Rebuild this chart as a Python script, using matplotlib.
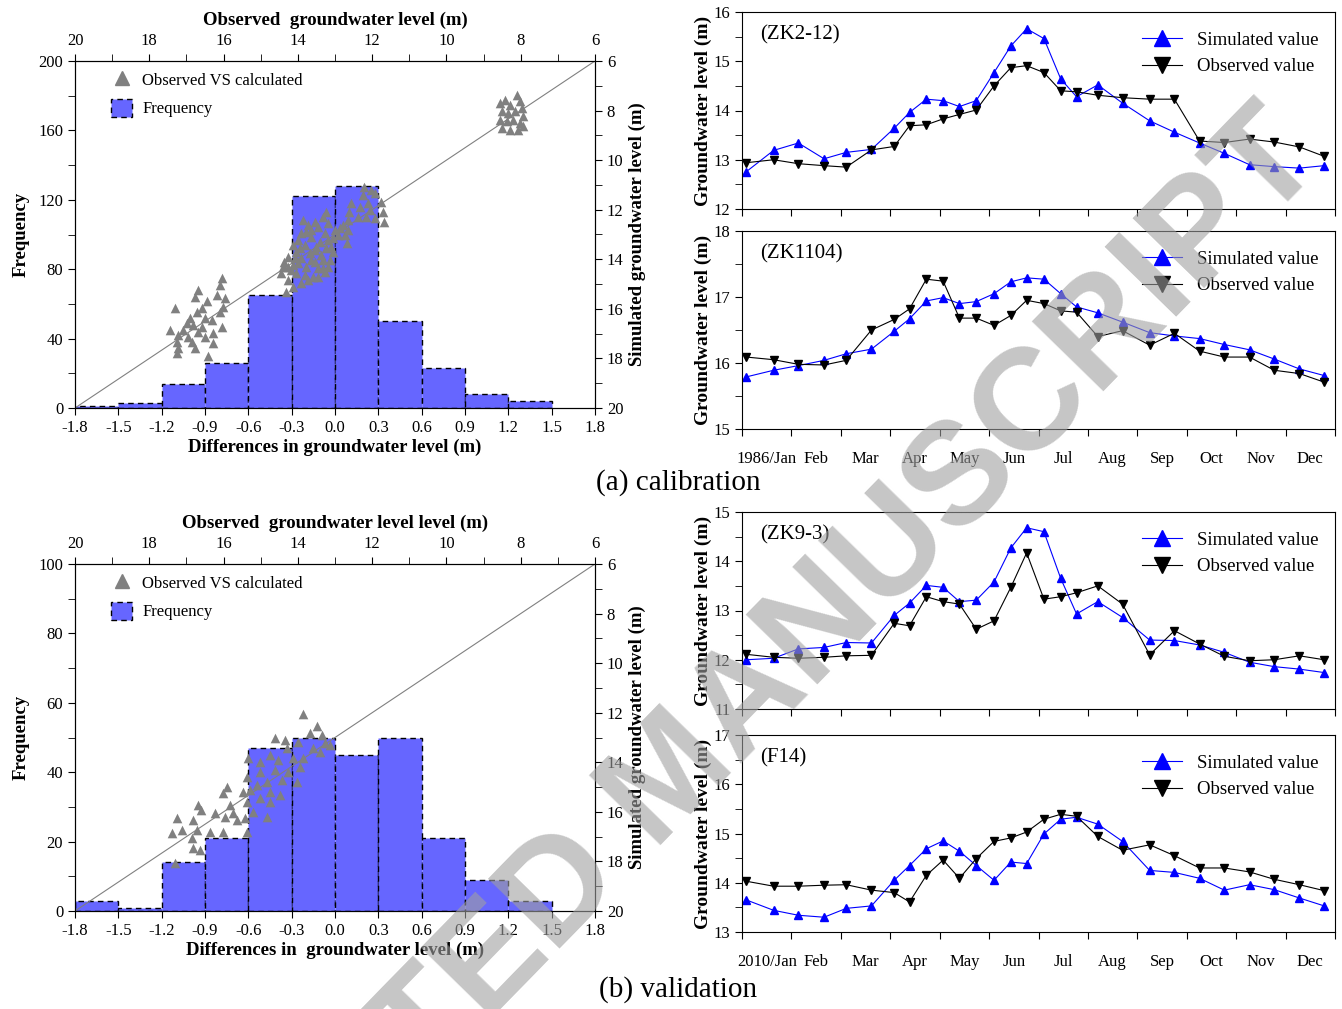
import matplotlib
matplotlib.use('Agg')
import matplotlib.pyplot as plt
import numpy as np
from matplotlib.lines import Line2D
from matplotlib.patches import Patch

plt.rcParams['font.family'] = ['Liberation Serif', 'DejaVu Serif']

# ---- histogram of differences (m) ----
bin_left = [-1.8, -1.5, -1.2, -0.9, -0.6, -0.3, 0.0, 0.3, 0.6, 0.9, 1.2]
freq_cal = [1, 3, 14, 26, 65, 122, 128, 50, 23, 8, 4]
freq_val = [3, 1, 14, 21, 47, 50, 45, 50, 21, 9, 3]
diff_ticks = [-1.8, -1.5, -1.2, -0.9, -0.6, -0.3, 0.0, 0.3, 0.6, 0.9, 1.2, 1.5, 1.8]

# ---- observed vs calculated scatter (m) ----
obs_cal = [16.05, 16.10, 16.68, 16.77, 16.19, 15.96, 16.45, 17.31, 16.01, 16.59, 16.72, 16.10,
           16.90, 16.50, 16.32, 16.99, 16.82, 16.59, 16.05, 17.44, 17.08, 16.68, 16.28, 17.22,
           16.95, 16.50, 17.26, 16.86, 16.28, 17.22, 16.77, 17.26, 16.41,
           12.22, 12.02, 12.25, 11.93, 12.56, 12.34, 12.11, 12.07, 11.75, 11.71, 11.68, 12.38,
           12.16, 11.93, 12.61, 12.65, 12.78, 12.87, 12.65, 12.74, 12.69, 12.92,
           13.23, 13.32, 13.86, 13.55, 13.73, 13.46, 13.19, 13.77, 13.28, 13.64, 14.00, 13.05,
           14.13, 13.82, 13.50, 13.23, 14.04, 13.68, 13.37, 14.27, 13.91, 13.55, 13.14, 14.36,
           14.13, 13.77, 13.32, 14.45, 14.04, 13.59, 14.27, 13.91, 14.13, 14.31, 13.28, 13.05,
           13.95, 13.64, 13.41, 14.18, 13.82, 13.46, 13.19, 13.91, 14.27, 13.55, 13.10, 13.73,
           14.00, 13.32, 14.40, 14.09, 13.46, 13.19, 13.01, 13.64,
           8.56, 8.42, 8.29, 8.11, 8.02, 7.97, 8.51, 8.33, 8.15, 7.93, 8.56, 8.38, 8.20, 8.02,
           8.51, 8.29, 8.06, 7.93]
sim_cal = [14.77, 15.04, 15.24, 15.53, 15.44, 15.57, 15.68, 15.95, 15.91, 15.98, 16.11, 16.11,
           16.38, 16.38, 16.45, 16.58, 16.65, 16.72, 16.72, 16.85, 16.85, 16.92, 16.99, 17.06,
           17.12, 17.12, 17.33, 17.33, 17.39, 17.59, 17.59, 17.79, 17.89,
           11.07, 11.20, 11.41, 11.34, 11.72, 11.88, 11.74, 12.01, 11.68, 12.08, 12.48, 12.28,
           12.28, 12.35, 12.08, 12.42, 12.62, 12.75, 12.82, 13.02, 13.36, 13.02,
           12.08, 12.28, 12.42, 12.48, 12.62, 12.68, 12.55, 12.89, 12.95, 13.09, 13.22, 13.16,
           13.42, 13.42, 13.49, 13.56, 13.69, 13.76, 13.83, 13.89, 13.96, 14.10, 14.03, 14.10,
           14.23, 14.30, 14.37, 14.57, 14.57, 14.70, 14.84, 14.97, 15.11, 15.31, 14.50, 13.69,
           13.56, 14.03, 13.29, 14.43, 14.63, 14.37, 13.22, 12.95, 14.30, 13.63, 13.49, 14.84,
           14.16, 14.03, 14.30, 13.96, 14.70, 14.30, 12.82, 12.82,
           7.69, 7.56, 7.76, 7.36, 7.63, 7.90, 8.03, 8.10, 8.03, 8.23, 8.37, 8.43, 8.37, 8.50,
           8.70, 8.77, 8.77, 8.64]

obs_val = [13.85, 13.49, 14.62, 14.35, 13.67, 13.36, 13.99, 13.27, 14.30, 14.75, 13.58, 14.53,
           14.12, 13.85, 15.02, 15.33, 13.40, 13.14, 13.94, 14.26, 14.62, 15.02, 15.38, 14.84,
           14.44, 14.03, 15.92, 16.01, 15.29, 14.75, 15.02, 14.48, 15.38, 14.75, 15.20, 14.84,
           15.42, 15.83, 15.74, 16.68, 16.62, 16.23, 15.96, 15.65, 17.26, 16.81, 17.13, 17.40,
           16.72, 16.86, 16.01, 16.37, 16.81, 16.64, 15.38, 17.31, 15.47, 15.11]
sim_val = [12.07, 12.52, 13.03, 13.10, 12.83, 12.90, 13.17, 13.24, 13.44, 13.71, 13.44, 13.91,
           13.84, 13.84, 13.97, 13.84, 13.57, 13.30, 14.18, 14.38, 14.31, 14.38, 14.58, 14.78,
           14.71, 14.78, 14.98, 15.25, 15.12, 15.19, 15.45, 15.32, 15.59, 15.59, 15.99, 16.19,
           16.26, 15.72, 16.06, 15.72, 15.93, 16.06, 16.19, 16.33, 16.26, 16.33, 16.73, 16.87,
           16.73, 17.07, 16.80, 16.80, 17.47, 17.54, 16.80, 18.08, 15.19, 14.92]

# ---- hydrographs: time in months from 1 Jan ----
t_month = [0.09, 0.64, 1.14, 1.66, 2.11, 2.62, 3.08, 3.39, 3.73, 4.07, 4.40, 4.74, 5.10, 5.44,
           5.76, 6.11, 6.45, 6.77, 7.20, 7.70, 8.25, 8.75, 9.26, 9.76, 10.27, 10.77, 11.28, 11.78]
zk212_sim = [12.76, 13.19, 13.34, 13.02, 13.15, 13.21, 13.64, 13.96, 14.23, 14.20, 14.08, 14.20,
             14.77, 15.31, 15.66, 15.46, 14.64, 14.28, 14.52, 14.15, 13.79, 13.56, 13.34, 13.13,
             12.90, 12.86, 12.83, 12.88]
zk212_obs = [12.94, 13.00, 12.92, 12.88, 12.85, 13.20, 13.27, 13.69, 13.71, 13.83, 13.92, 14.01,
             14.50, 14.87, 14.91, 14.77, 14.40, 14.38, 14.31, 14.26, 14.23, 14.23, 13.38, 13.35,
             13.42, 13.36, 13.26, 13.07]
zk1104_sim = [15.79, 15.89, 15.96, 16.04, 16.14, 16.21, 16.48, 16.67, 16.94, 16.99, 16.90, 16.93,
              17.05, 17.23, 17.29, 17.27, 17.05, 16.85, 16.76, 16.62, 16.46, 16.41, 16.37, 16.28,
              16.20, 16.06, 15.91, 15.81]
zk1104_obs = [16.09, 16.05, 15.98, 15.97, 16.04, 16.50, 16.66, 16.82, 17.27, 17.24, 16.68, 16.68,
              16.57, 16.72, 16.95, 16.90, 16.79, 16.77, 16.40, 16.49, 16.27, 16.45, 16.18, 16.09,
              16.09, 15.89, 15.84, 15.71]
zk93_sim = [12.00, 12.03, 12.22, 12.25, 12.35, 12.34, 12.90, 13.15, 13.51, 13.47, 13.18, 13.21,
            13.58, 14.27, 14.68, 14.60, 13.65, 12.93, 13.18, 12.86, 12.40, 12.39, 12.30, 12.15,
            11.95, 11.86, 11.81, 11.74]
zk93_obs = [12.11, 12.05, 12.03, 12.05, 12.08, 12.09, 12.74, 12.69, 13.28, 13.18, 13.13, 12.62,
            12.79, 13.47, 14.17, 13.23, 13.28, 13.36, 13.50, 13.13, 12.10, 12.59, 12.32, 12.07,
            11.98, 12.00, 12.08, 12.00]
f14_sim = [13.65, 13.44, 13.34, 13.30, 13.48, 13.53, 14.05, 14.35, 14.69, 14.85, 14.64, 14.35,
           14.05, 14.42, 14.39, 14.99, 15.29, 15.33, 15.19, 14.84, 14.25, 14.21, 14.09, 13.85,
           13.96, 13.86, 13.69, 13.53]
f14_obs = [14.03, 13.93, 13.93, 13.95, 13.96, 13.85, 13.80, 13.61, 14.15, 14.46, 14.09, 14.49,
           14.84, 14.91, 15.03, 15.29, 15.39, 15.35, 14.94, 14.66, 14.77, 14.55, 14.30, 14.30,
           14.22, 14.07, 13.96, 13.84]
months = ['Jan', 'Feb', 'Mar', 'Apr', 'May', 'Jun', 'Jul', 'Aug', 'Sep', 'Oct', 'Nov', 'Dec']

BAR = '#6666ff'
PT = '#808080'
W, H = 1342, 1009
fig = plt.figure(figsize=(W / 100, H / 100), dpi=100)


def rect(l, t, r, b):
    return [l / W, 1 - b / H, (r - l) / W, (b - t) / H]


def hist_panel(box, freq, ymax, ystep, obs, sim, toplabel, botlabel):
    ax = fig.add_axes(box)
    ax.bar(bin_left, freq, width=0.3, align='edge', color=BAR, edgecolor='black',
           linestyle=(0, (4, 3)), linewidth=1.0)
    ax.set_xlim(-1.8, 1.8)
    ax.set_ylim(0, ymax)
    ax.set_xticks(diff_ticks)
    ax.set_xticklabels(['%.1f' % v for v in diff_ticks])
    ax.set_yticks(np.arange(0, ymax + 1, ystep * 2))
    ax.set_yticks(np.arange(0, ymax + 1, ystep), minor=True)
    ax.tick_params(which='both', direction='out', length=5, labelsize=12)
    ax.set_xlabel(botlabel, fontsize=13.5, fontweight='bold', labelpad=2)
    ax.set_ylabel('Frequency', fontsize=13.5, fontweight='bold', labelpad=6)

    ax2 = fig.add_axes(box, facecolor='none')
    ax2.plot([20, 6], [20, 6], color='#808080', lw=0.8)
    ax2.scatter(obs, sim, marker='^', s=48, color=PT, linewidths=0, zorder=3)
    ax2.set_xlim(20, 6)
    ax2.set_ylim(20, 6)
    ax2.xaxis.tick_top()
    ax2.yaxis.tick_right()
    ax2.xaxis.set_label_position('top')
    ax2.yaxis.set_label_position('right')
    ax2.set_xticks(range(20, 5, -2))
    ax2.set_xticks(range(20, 5, -1), minor=True)
    ax2.set_yticks(range(6, 21, 2))
    ax2.set_yticks(range(6, 21, 1), minor=True)
    ax2.tick_params(which='both', direction='out', length=5, labelsize=12)
    ax2.set_xlabel(toplabel, fontsize=13.5, fontweight='bold', labelpad=6)
    ax2.set_ylabel('Simulated groundwater level (m)', fontsize=13.5, fontweight='bold',
                   labelpad=4)
    handles = [Line2D([], [], marker='^', color=PT, ls='none', markersize=10),
               Patch(facecolor=BAR, edgecolor='black', linestyle=(0, (4, 3)))]
    ax2.legend(handles, ['Observed VS calculated', 'Frequency'], loc='upper left',
               frameon=False, fontsize=12, bbox_to_anchor=(0.04, 1.015), handlelength=1.3,
               handleheight=1.3, labelspacing=0.55, handletextpad=0.6)


def ts_panel(box, sim, obs, name, ylo, yhi, year=None):
    ax = fig.add_axes(box)
    ax.plot(t_month, sim, color='blue', lw=0.8, marker='^', ms=5.5, label='Simulated value')
    ax.plot(t_month, obs, color='black', lw=0.8, marker='v', ms=5.5, label='Observed value')
    ax.set_xlim(0, 12)
    ax.set_ylim(ylo, yhi)
    ax.set_xticks(range(13))
    ax.set_xticklabels([])
    if year:
        ax.set_xticks(np.arange(0.5, 12, 1), minor=True)
        ax.set_xticklabels([year + '/Jan'] + months[1:], minor=True)
        ax.tick_params(axis='x', which='minor', length=0, labelsize=12, pad=16)
    ax.yaxis.set_major_locator(plt.MultipleLocator(1))
    ax.yaxis.set_minor_locator(plt.MultipleLocator(0.5))
    ax.tick_params(axis='y', which='both', direction='out', length=5, labelsize=12)
    ax.tick_params(axis='x', which='major', direction='out', length=5)
    ax.set_ylabel('Groundwater level (m)', fontsize=14, fontweight='bold', labelpad=1)
    ax.text(0.03, 0.885, name, transform=ax.transAxes, fontsize=15, va='center')
    ax.legend(loc='upper right', frameon=False, fontsize=13.5, markerscale=2.2,
              handlelength=2.1, handletextpad=0.8, labelspacing=0.5,
              bbox_to_anchor=(1.0, 0.985))


hist_panel(rect(75, 61, 595, 408), freq_cal, 200, 20, obs_cal, sim_cal,
           'Observed  groundwater level (m)', 'Differences in groundwater level (m)')
hist_panel(rect(75, 564, 595, 911), freq_val, 100, 10, obs_val, sim_val,
           'Observed  groundwater level level (m)', 'Differences in  groundwater level (m)')

ts_panel(rect(742, 12, 1335, 209), zk212_sim, zk212_obs, '(ZK2-12)', 12, 16)
ts_panel(rect(742, 231, 1335, 429), zk1104_sim, zk1104_obs, '(ZK1104)', 15, 18, '1986')
ts_panel(rect(742, 512, 1335, 709), zk93_sim, zk93_obs, '(ZK9-3)', 11, 15)
ts_panel(rect(742, 735, 1335, 932), f14_sim, f14_obs, '(F14)', 13, 17, '2010')

fig.text(678 / W, 1 - 483 / H, '(a) calibration', fontsize=21, ha='center', va='center')
fig.text(678 / W, 1 - 990 / H, '(b) validation', fontsize=21, ha='center', va='center')

# watermark
fig.text(672 / W, 1 - 780 / H, 'ACCEPTED MANUSCRIPT', rotation=45.7, fontsize=104,
         family='Liberation Sans', fontweight='bold', color='#a0a0a0', alpha=0.6,
         ha='center', va='center', zorder=100)

fig.savefig('out.png', dpi=100)
